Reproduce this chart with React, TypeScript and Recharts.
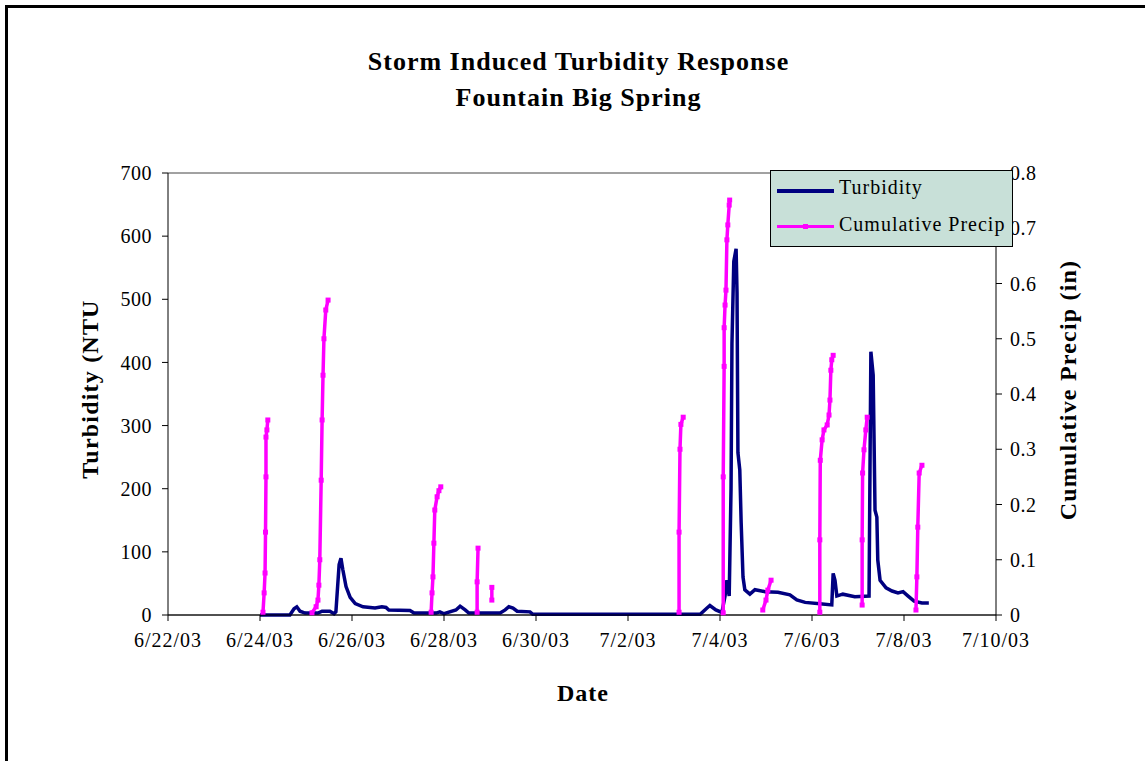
import React from 'react';
import { LineChart, Line, XAxis, YAxis, CartesianGrid } from 'recharts';

// x values are days after 6/22/03
const dateTicks = [0, 2, 4, 6, 8, 10, 12, 14, 16, 18];
const dateLabels = ['6/22/03', '6/24/03', '6/26/03', '6/28/03', '6/30/03', '7/2/03', '7/4/03', '7/6/03', '7/8/03', '7/10/03'];
const ntuTicks = [0, 100, 200, 300, 400, 500, 600, 700];
const precipTicks = [0, 0.1, 0.2, 0.3, 0.4, 0.5, 0.6, 0.7, 0.8];

// Turbidity (NTU)
const turbDay = [
  2.0, 2.65, 2.74, 2.8, 2.87, 2.98, 3.26, 3.35, 3.52, 3.61, 3.65, 3.72, 3.76, 3.8, 3.87, 3.96, 4.07, 4.24,
  4.5, 4.65, 4.74, 4.8, 5.26, 5.35, 5.83, 5.91, 6.0, 6.26, 6.35, 6.46, 6.54, 7.22, 7.33, 7.41, 7.5, 7.59,
  7.87, 7.93, 11.57, 11.7, 11.78, 11.91, 12.04, 12.11, 12.15, 12.2, 12.24, 12.26, 12.3, 12.35, 12.37, 12.39,
  12.43, 12.46, 12.5, 12.54, 12.65, 12.76, 12.98, 13.26, 13.52, 13.67, 13.85, 14.17, 14.43, 14.46, 14.5,
  14.54, 14.67, 14.93, 15.24, 15.28, 15.33, 15.37, 15.41, 15.43, 15.48, 15.61, 15.74, 15.87, 15.98, 16.09,
  16.22, 16.39, 16.54,
];
const turbNtu = [
  0, 0, 10, 13, 6, 3, 3, 6, 6, 2, 5, 80, 90, 72, 45, 28, 18, 13,
  11, 13, 12, 8, 7, 3, 3, 5, 2, 8, 14, 8, 3, 3, 8, 13, 11, 6,
  5, 1, 1, 10, 15, 8, 4, 30, 55, 30, 200, 430, 560, 580, 510, 257,
  230, 146, 60, 40, 33, 40, 37, 36, 32, 24, 20, 18, 16, 66, 55,
  30, 33, 29, 30, 417, 380, 166, 155, 87, 55, 43, 38, 35, 37, 30,
  22, 19, 19,
];

// Cumulative precip (in), one run per storm: [day, inches]
const storm0624 = [[2.065, 0.005], [2.09, 0.04], [2.11, 0.076], [2.12, 0.15], [2.13, 0.25], [2.13, 0.322], [2.15, 0.335], [2.17, 0.353]];
const storm0625 = [[3.13, 0.004], [3.22, 0.015], [3.26, 0.027], [3.28, 0.054], [3.3, 0.1], [3.33, 0.244], [3.35, 0.353], [3.37, 0.434], [3.39, 0.5], [3.43, 0.552], [3.48, 0.57]];
const storm0627 = [[5.72, 0.005], [5.74, 0.04], [5.76, 0.069], [5.78, 0.13], [5.8, 0.19], [5.85, 0.214], [5.89, 0.225], [5.93, 0.232]];
const storm0628a = [[6.72, 0.005], [6.72, 0.06], [6.74, 0.121]];
const storm0628b = [[7.04, 0.027], [7.04, 0.05]];
const storm0703 = [[11.11, 0.005], [11.11, 0.15], [11.13, 0.3], [11.15, 0.345], [11.2, 0.358]];
const storm0704 = [[12.07, 0.004], [12.07, 0.25], [12.09, 0.45], [12.09, 0.52], [12.11, 0.561], [12.13, 0.588], [12.15, 0.679], [12.17, 0.706], [12.2, 0.742], [12.21, 0.751]];
const storm0705 = [[12.93, 0.009], [13.0, 0.027], [13.04, 0.045], [13.11, 0.063]];
const storm0706 = [[14.17, 0.005], [14.17, 0.136], [14.18, 0.28], [14.22, 0.317], [14.26, 0.335], [14.33, 0.344], [14.37, 0.362], [14.39, 0.389], [14.41, 0.443], [14.43, 0.462], [14.46, 0.47]];
const storm0707 = [[15.09, 0.018], [15.09, 0.136], [15.1, 0.257], [15.13, 0.299], [15.17, 0.335], [15.2, 0.358]];
const storm0708 = [[16.26, 0.009], [16.28, 0.069], [16.3, 0.159], [16.33, 0.257], [16.39, 0.271]];

const storms = [storm0624, storm0625, storm0627, storm0628a, storm0628b, storm0703, storm0704, storm0705, storm0706, storm0707, storm0708];

const turbData = turbDay.map((d, i) => ({ day: d, ntu: turbNtu[i] }));

// join storms with a null point between each, so the line breaks
const precipData: { day: number; precip: number | null }[] = [];
storms.forEach((s, i) => {
  if (i > 0) precipData.push({ day: (precipData[precipData.length - 1].day + s[0][0]) / 2, precip: null });
  s.forEach(([d, v]) => precipData.push({ day: d, precip: v }));
});

const FONT = '"Liberation Serif", "Times New Roman", serif';

const squareDot = (props: any) => {
  const { cx, cy, index } = props;
  if (cx == null || cy == null || Number.isNaN(cy)) return <g key={index} />;
  return <rect key={index} x={cx - 2.5} y={cy - 2.5} width={5} height={5} fill="#FF00FF" />;
};

const tickStyle = { fill: '#000', fontSize: 20, fontFamily: FONT, letterSpacing: 0.5 };
const dateTickStyle = { fill: '#000', fontSize: 20, fontFamily: FONT, letterSpacing: 1 };

export default function App() {
  return (
    <div style={{ position: 'absolute', left: 0, top: 0, width: 1145, height: 761, background: '#fff', overflow: 'hidden', fontFamily: FONT }}>
      <div style={{ position: 'absolute', left: 5, top: 5, width: 1200, height: 800, borderLeft: '3px solid #000', borderTop: '3px solid #000' }} />
      <div style={{ position: 'absolute', left: 0, top: 44, width: 1157, textAlign: 'center', fontWeight: 'bold', fontSize: 26, letterSpacing: 1, lineHeight: '36px' }}>
        <div>Storm Induced Turbidity Response</div>
        <div>Fountain Big Spring</div>
      </div>
      <div style={{ position: 'absolute', left: 90, top: 389, transform: 'translate(-50%, -50%) rotate(-90deg)', whiteSpace: 'nowrap', fontWeight: 'bold', fontSize: 24, letterSpacing: 1.2 }}>
        Turbidity (NTU
      </div>
      <div style={{ position: 'absolute', left: 1068, top: 390, transform: 'translate(-50%, -50%) rotate(-90deg)', whiteSpace: 'nowrap', fontWeight: 'bold', fontSize: 24, letterSpacing: 1.2 }}>
        Cumulative Precip (in)
      </div>
      <div style={{ position: 'absolute', left: 583, top: 693, transform: 'translate(-50%, -50%)', fontWeight: 'bold', fontSize: 24, letterSpacing: 1 }}>
        Date
      </div>
      <div style={{ position: 'absolute', left: 0, top: 0 }}>
        <LineChart width={1145} height={761} margin={{ top: 173, right: 89, bottom: 106, left: 108 }}>
          <CartesianGrid vertical={false} stroke="#444" />
          <XAxis
            dataKey="day"
            type="number"
            domain={[0, 18]}
            ticks={dateTicks}
            tickFormatter={(v: number) => dateLabels[dateTicks.indexOf(v)]}
            height={40}
            stroke="#000"
            tick={dateTickStyle}
            tickSize={6}
            tickMargin={12}
            allowDuplicatedCategory={false}
          />
          <YAxis
            yAxisId="ntu"
            domain={[0, 700]}
            ticks={ntuTicks}
            width={60}
            stroke="#000"
            tick={tickStyle}
            tickSize={6}
            tickMargin={10}
          />
          <YAxis
            yAxisId="precip"
            orientation="right"
            domain={[0, 0.8]}
            ticks={precipTicks}
            tickFormatter={(v: number) => String(v)}
            width={60}
            stroke="#000"
            tick={tickStyle}
            tickSize={6}
            tickMargin={8}
          />
          <Line
            yAxisId="ntu"
            data={turbData}
            dataKey="ntu"
            type="linear"
            stroke="#000080"
            strokeWidth={3.5}
            dot={false}
            isAnimationActive={false}
          />
          <Line
            yAxisId="precip"
            data={precipData}
            dataKey="precip"
            type="linear"
            stroke="#FF00FF"
            strokeWidth={3.5}
            dot={squareDot}
            connectNulls={false}
            isAnimationActive={false}
          />
        </LineChart>
      </div>
      <div style={{ position: 'absolute', left: 770, top: 170, width: 241, height: 75, background: '#C8E0D8', border: '1px solid #000', fontSize: 20, letterSpacing: 1 }}>
        <div style={{ position: 'absolute', left: 6, top: 18, width: 57, height: 4, background: '#000080' }} />
        <div style={{ position: 'absolute', left: 68, top: 5 }}>Turbidity</div>
        <div style={{ position: 'absolute', left: 6, top: 54, width: 57, height: 3, background: '#FF00FF' }} />
        <div style={{ position: 'absolute', left: 32, top: 53, width: 5, height: 5, background: '#FF00FF' }} />
        <div style={{ position: 'absolute', left: 68, top: 42 }}>Cumulative Precip</div>
      </div>
    </div>
  );
}
